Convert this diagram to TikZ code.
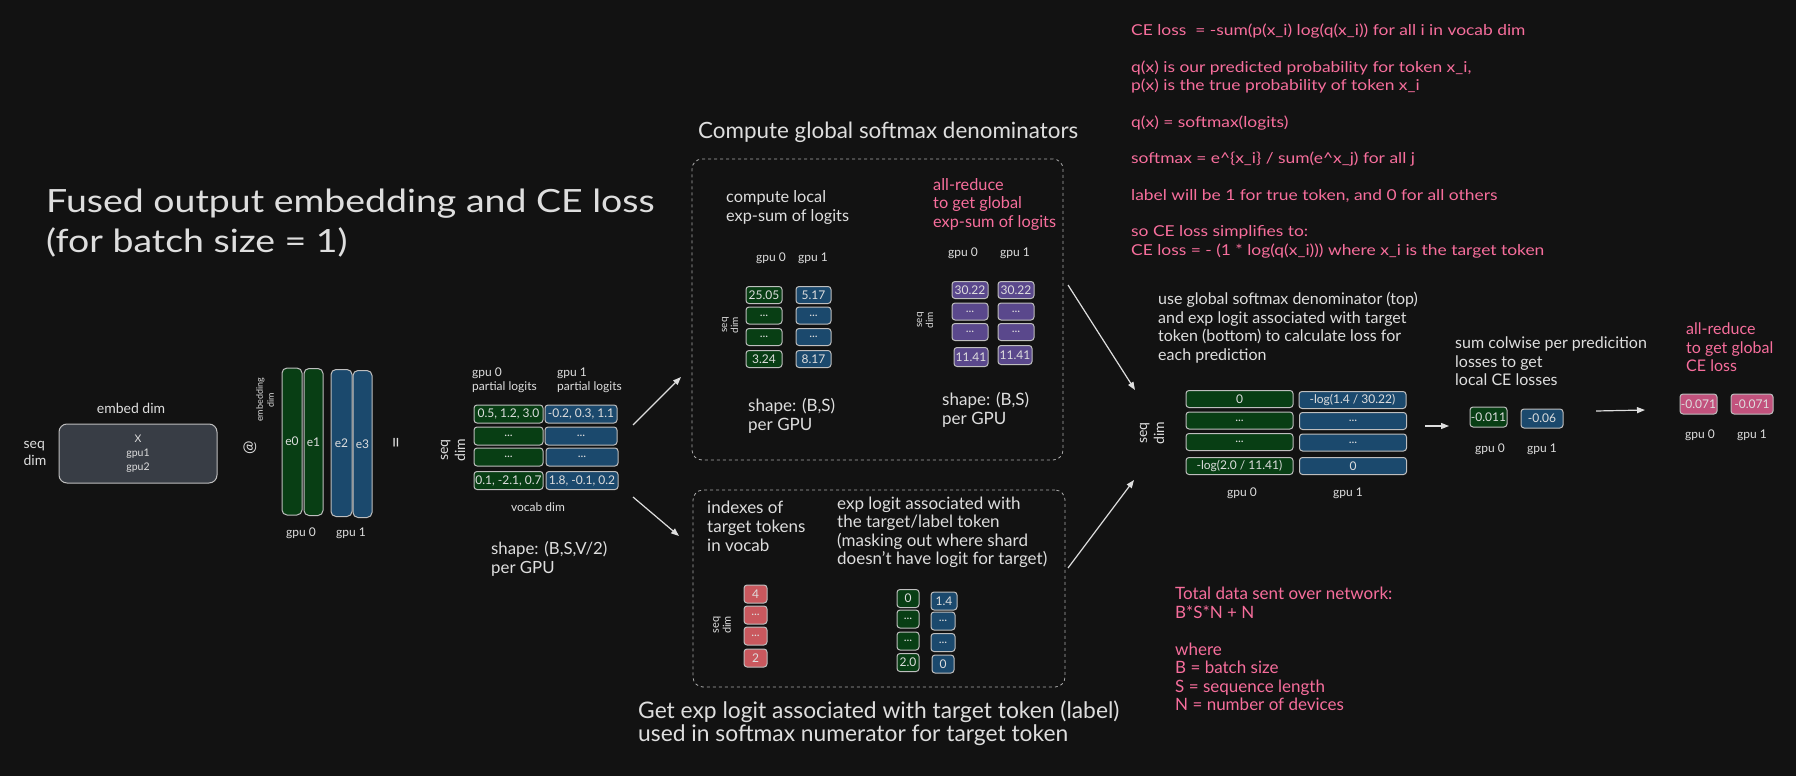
\documentclass[tikz,border=0pt]{standalone}
\usepackage{fontspec}
\setmainfont{Lato}
\newfontfamily\titlefont[FakeStretch=1.17]{Lato}
\newfontfamily\notefont[FakeStretch=1.16]{Lato}
\usetikzlibrary{arrows.meta}
\definecolor{bgc}{RGB}{18,18,18}
\definecolor{fgc}{RGB}{222,222,222}
\definecolor{pinkt}{RGB}{247,110,156}
\definecolor{bordc}{RGB}{190,190,190}
\definecolor{dashc}{RGB}{170,170,170}
\definecolor{cgreen}{RGB}{8,62,20}
\definecolor{cblue}{RGB}{27,73,109}
\definecolor{cpurple}{RGB}{90,72,140}
\definecolor{cred}{RGB}{201,88,94}
\definecolor{cpink}{RGB}{194,82,125}
\definecolor{cgray}{RGB}{56,61,69}
\newcommand\myfs[2]{\fontsize{#1}{#2}\selectfont}
\begin{document}
\begin{tikzpicture}[x=1pt,y=-1pt,
  txt/.style={text=fgc, inner sep=0pt},
  lbl/.style={txt, font=\myfs{16}{18.5}, align=left, anchor=west},
  plbl/.style={lbl, text=pinkt},
  small/.style={txt, font=\myfs{12}{14}, align=center},
  seqdim/.style={txt, rotate=90, align=center},
  cell/.style={draw=bordc, line width=1pt, rounded corners=3pt, inner sep=0pt, text=fgc, font=\myfs{12}{14}},
  sz/.style 2 args={minimum width=#1, minimum height=#2},
  gcell/.style={cell, fill=cgreen},
  bcell/.style={cell, fill=cblue},
  pcell/.style={cell, fill=cpurple},
  rcell/.style={cell, fill=cred},
  kcell/.style={cell, fill=cpink},
  arr/.style={draw=fgc, line width=1.2pt, -{Triangle[length=8pt,width=6pt]}},
  dbox/.style={draw=dashc, line width=0.8pt, dash pattern=on 3pt off 3pt, rounded corners=10pt, inner sep=0pt}
]
\fill[bgc] (0,0) rectangle (1796,776);
\useasboundingbox (0,0) rectangle (1796,776);

% title
\node[txt, font=\titlefont\myfs{32}{40}, align=left, anchor=west] (title) at (46,223) {Fused output embedding and CE loss\\(for batch size = 1)};

% embedding input
\node[txt, font=\myfs{14}{16}] (embdim) at (131,408) {embed dim};
\node[txt, font=\myfs{14}{17}, align=left] (seqx) at (35,453) {seq\\dim};
\node[cell, fill=cgray, rounded corners=8pt, sz={158pt}{59pt}, font=\myfs{10.5}{14}, align=center] (xbox) at (138,453.5) {X\\gpu1\\gpu2};
\node[txt, font=\myfs{16}{18}, rotate=90] (at) at (250,448) {@};
\node[seqdim, font=\myfs{9}{11}] (edim) at (265,400) {embedding\\dim};
\node[gcell, rounded corners=5pt, sz={20pt}{147pt}] (e0) at (292,441.5) {e0};
\node[gcell, rounded corners=5pt, sz={19pt}{147pt}] (e1) at (313.5,442) {e1};
\node[bcell, rounded corners=5pt, sz={21pt}{147pt}] (e2) at (341.5,443) {e2};
\node[bcell, rounded corners=5pt, sz={19pt}{147pt}] (e3) at (362.5,444) {e3};
\node[small] (eg0) at (301,533) {gpu 0};
\node[small] (eg1) at (351,533) {gpu 1};
\node[txt, font=\myfs{20}{20}, rotate=90] (eq) at (398,443) {=};

% partial logits
\node[seqdim, font=\myfs{14}{17}] (sd1) at (453,450) {seq\\dim};
\node[txt, font=\myfs{12}{14}, align=left, anchor=west] (pl0) at (472,380) {gpu 0\\partial logits};
\node[txt, font=\myfs{12}{14}, align=left, anchor=west] (pl1) at (557,380) {gpu 1\\partial logits};
\node[gcell, sz={69pt}{18pt}] (lg1) at (508.5,414) {0.5, 1.2, 3.0};
\node[gcell, sz={69pt}{18pt}] (lg2) at (508.5,436) {...};
\node[gcell, sz={69pt}{18pt}] (lg3) at (508.5,457) {...};
\node[gcell, sz={69pt}{18pt}] (lg4) at (508.5,480.5) {0.1, -2.1, 0.7};
\node[bcell, sz={72pt}{18pt}] (lb1) at (581,414) {-0.2, 0.3, 1.1};
\node[bcell, sz={72pt}{18pt}] (lb2) at (581,436) {...};
\node[bcell, sz={72pt}{18pt}] (lb3) at (582,457) {...};
\node[bcell, sz={72pt}{18pt}] (lb4) at (582,480.5) {1.8, -0.1, 0.2};
\node[small] (vd) at (538,507) {vocab dim};
\node[lbl, font=\myfs{16.8}{18.5}] (shp1) at (491,559) {shape: (B,S,V/2)\\per GPU};

\coordinate (a1s) at (633,425); \coordinate (a1e) at (681,377);
\coordinate (a2s) at (633,497); \coordinate (a2e) at (679,536);
\draw[arr] (a1s) -- (a1e);
\draw[arr] (a2s) -- (a2e);

% top box
\node[txt, font=\myfs{22.4}{24}, anchor=west] (toptitle) at (698,132) {Compute global softmax denominators};
\node[dbox, sz={371pt}{301pt}] (topbox) at (877.5,309.5) {};
\node[lbl, font=\myfs{16.3}{19}] (tl1) at (726,207.5) {compute local\\exp-sum of logits};
\node[plbl, font=\myfs{16.3}{18.5}] (tl2) at (933,204) {all-reduce\\to get global\\exp-sum of logits};
\node[small] (tg0) at (771,258) {gpu 0};
\node[small] (tg1) at (813,258) {gpu 1};
\node[small] (tg2) at (963,253) {gpu 0};
\node[small] (tg3) at (1015,253) {gpu 1};
\node[seqdim, font=\myfs{10}{11}] (sd2) at (730,325) {seq\\dim};
\node[seqdim, font=\myfs{10}{11}] (sd3) at (925,320) {seq\\dim};
\node[gcell, sz={36pt}{17pt}] (tgc1) at (764,295) {25.05};
\node[gcell, sz={36pt}{17pt}] (tgc2) at (764,315.5) {...};
\node[gcell, sz={36pt}{17pt}] (tgc3) at (764,337) {...};
\node[gcell, sz={36pt}{17pt}] (tgc4) at (764,359) {3.24};
\node[bcell, sz={35pt}{17pt}] (tbc1) at (813.5,295) {5.17};
\node[bcell, sz={35pt}{17pt}] (tbc2) at (813.5,315.5) {...};
\node[bcell, sz={35pt}{17pt}] (tbc3) at (813.5,337) {...};
\node[bcell, sz={35pt}{17pt}] (tbc4) at (813.5,359) {8.17};
\node[pcell, sz={36pt}{17pt}] (tp1) at (970,290) {30.22};
\node[pcell, sz={36pt}{17pt}] (tp2) at (970,311.5) {...};
\node[pcell, sz={36pt}{17pt}] (tp3) at (970,332) {...};
\node[pcell, sz={34pt}{19pt}] (tp4) at (971,357) {11.41};
\node[pcell, sz={36pt}{17pt}] (tq1) at (1016,290) {30.22};
\node[pcell, sz={36pt}{17pt}] (tq2) at (1016,311.5) {...};
\node[pcell, sz={36pt}{17pt}] (tq3) at (1016,332) {...};
\node[pcell, sz={34pt}{19pt}] (tq4) at (1015,355) {11.41};
\node[lbl, font=\myfs{17}{18.5}] (shp2) at (748,416) {shape: (B,S)\\per GPU};
\node[lbl, font=\myfs{17}{18.5}] (shp3) at (942,410) {shape: (B,S)\\per GPU};

% bottom box
\node[dbox, sz={372pt}{197pt}] (botbox) at (879,588.5) {};
\node[lbl, font=\myfs{17}{19}] (bl1) at (707,526) {indexes of\\target tokens\\in vocab};
\node[lbl, font=\myfs{17}{18.5}] (bl2) at (837,532.5) {exp logit associated with\\the target/label token\\(masking out where shard\\doesn't have logit for target)};
\node[seqdim, font=\myfs{11}{12}] (sd4) at (722,625) {seq\\dim};
\node[rcell, sz={23pt}{18pt}] (r1) at (755.5,594) {4};
\node[rcell, sz={23pt}{18pt}] (r2) at (755.5,615) {...};
\node[rcell, sz={23pt}{18pt}] (r3) at (755.5,636) {...};
\node[rcell, sz={23pt}{18pt}] (r4) at (755.5,658) {2};
\node[gcell, sz={22pt}{18pt}] (bg1) at (908,598.5) {0};
\node[gcell, sz={22pt}{18pt}] (bg2) at (908,619) {...};
\node[gcell, sz={22pt}{18pt}] (bg3) at (908,641) {...};
\node[gcell, sz={22pt}{18pt}] (bg4) at (908,662.5) {2.0};
\node[bcell, sz={26pt}{18pt}] (bb1) at (944,601) {1.4};
\node[bcell, sz={24pt}{18pt}] (bb2) at (943,621) {...};
\node[bcell, sz={24pt}{18pt}] (bb3) at (943,642.5) {...};
\node[bcell, sz={22pt}{18pt}] (bb4) at (943,664) {0};
\node[txt, font=\myfs{22.8}{23}, align=left, anchor=west] (bottitle) at (638,723.5) {Get exp logit associated with target token (label)\\used in softmax numerator for target token};

% arrows into result
\coordinate (a3s) at (1068,285); \coordinate (a3e) at (1135,390);
\coordinate (a4s) at (1068,568); \coordinate (a4e) at (1134,480);
\draw[arr] (a3s) -- (a3e);
\draw[arr] (a4s) -- (a4e);

% result
\node[lbl] (rl1) at (1158,327.5) {use global softmax denominator (top)\\and exp logit associated with target\\token (bottom) to calculate loss for\\each prediction};
\node[seqdim, font=\myfs{14}{17}] (sd5) at (1152,433) {seq\\dim};
\node[gcell, sz={107pt}{17pt}] (rg1) at (1239.5,399) {0};
\node[gcell, sz={107pt}{17pt}] (rg2) at (1239.5,420.5) {...};
\node[gcell, sz={107pt}{17pt}] (rg3) at (1239.5,442) {...};
\node[gcell, sz={107pt}{17pt}] (rg4) at (1239.5,466) {-log(2.0 / 11.41)};
\node[bcell, sz={107pt}{17pt}] (rb1) at (1352.5,400) {-log(1.4 / 30.22)};
\node[bcell, sz={107pt}{17pt}] (rb2) at (1353,421) {...};
\node[bcell, sz={107pt}{17pt}] (rb3) at (1353,442.5) {...};
\node[bcell, sz={107pt}{17pt}] (rb4) at (1353,466) {0};
\node[small] (rg0l) at (1242,493) {gpu 0};
\node[small] (rg1l) at (1348,493) {gpu 1};

\coordinate (a5s) at (1425,426); \coordinate (a5e) at (1449,426);
\draw[arr] (a5s) -- (a5e);

\node[lbl] (sl) at (1455,361.5) {sum colwise per predicition\\losses to get\\local CE losses};
\node[gcell, sz={37pt}{20pt}] (lo0) at (1488.5,417) {-0.011};
\node[bcell, sz={42pt}{19pt}] (lo1) at (1542,418.5) {-0.06};
\node[small] (lg0l) at (1490,449) {gpu 0};
\node[small] (lg1l) at (1542,449) {gpu 1};

\coordinate (a6s) at (1596,411); \coordinate (a6e) at (1645,410);
\draw[arr] (a6s) -- (a6e);

\node[plbl] (gl) at (1686,347.5) {all-reduce\\to get global\\CE loss};
\node[kcell, sz={37pt}{20pt}] (go0) at (1698.5,404) {-0.071};
\node[kcell, sz={42pt}{20pt}] (go1) at (1752,404) {-0.071};
\node[small] (gg0) at (1700,435) {gpu 0};
\node[small] (gg1) at (1752,435) {gpu 1};

% notes
\node[txt, text=pinkt, font=\notefont\myfs{15}{18.3}, align=left, anchor=west] (notes) at (1131,141) {CE loss \ = -sum(p(x\_i) log(q(x\_i)) for all i in vocab dim\\[18.3pt]
q(x) is our predicted probability for token x\_i,\\
p(x) is the true probability of token x\_i\\[18.3pt]
q(x) = softmax(logits)\\[18.3pt]
softmax = e\textasciicircum\{x\_i\} / sum(e\textasciicircum x\_j) for all j\\[18.3pt]
label will be 1 for true token, and 0 for all others\\[18.3pt]
so CE loss simplifies to:\\
CE loss = - (1 * log(q(x\_i))) where x\_i is the target token};

\node[plbl, font=\myfs{17}{18.4}] (net) at (1175,649) {Total data sent over network:\\B*S*N + N\\[18.4pt]
where\\B = batch size\\S = sequence length\\N = number of devices};
\end{tikzpicture}
\end{document}
